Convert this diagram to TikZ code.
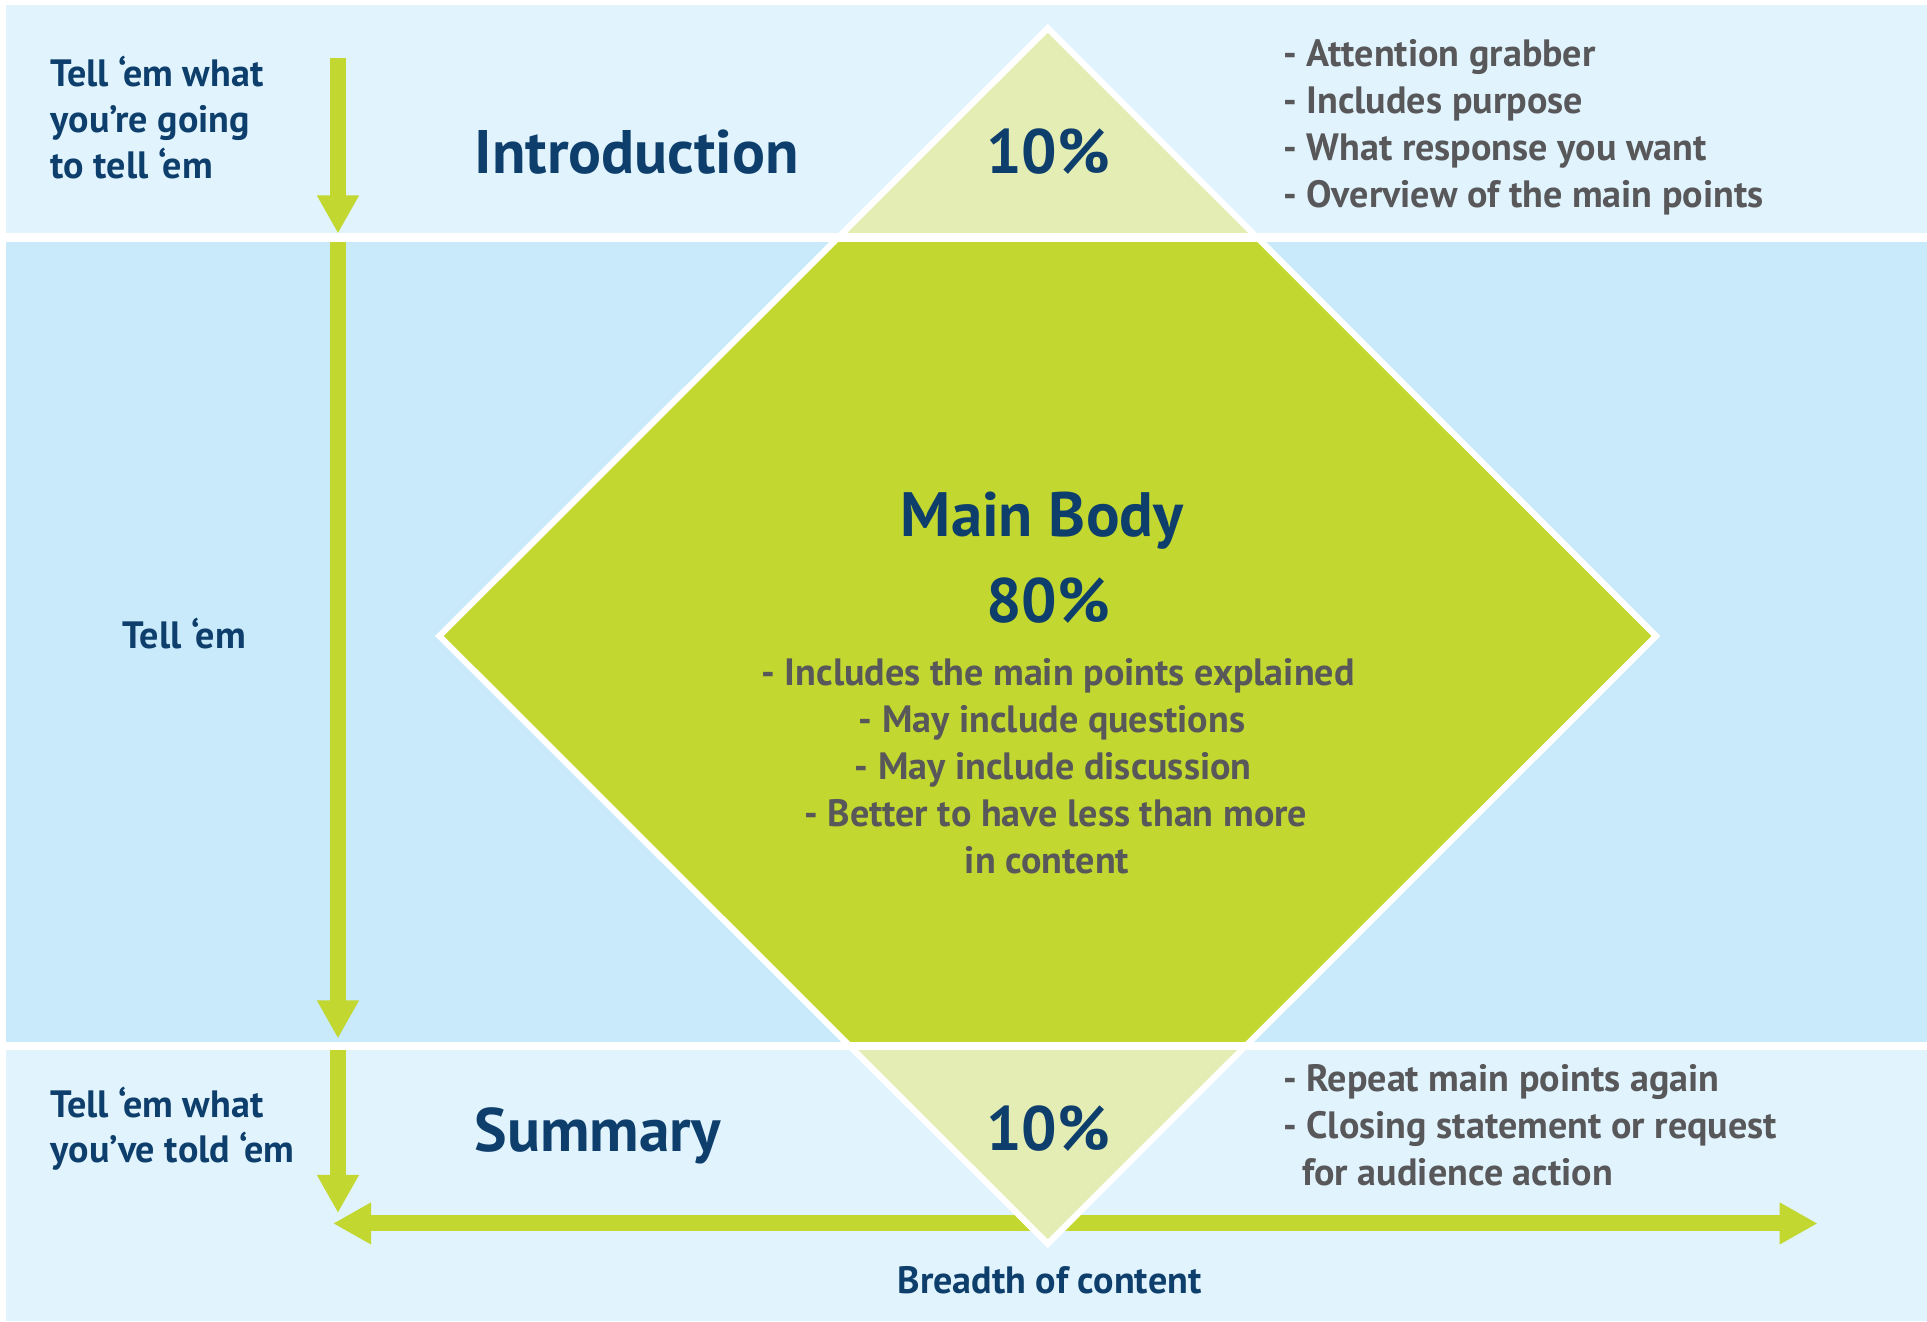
\documentclass[tikz,border=0pt]{standalone}
\usepackage{fontspec}
\setmainfont{PT Sans}
\usetikzlibrary{arrows.meta}
\definecolor{bandlight}{HTML}{E1F4FD}
\definecolor{bandmid}{HTML}{C8EAFB}
\definecolor{grn}{HTML}{C2D72F}
\definecolor{lgrn}{HTML}{E4EDB3}
\definecolor{navyc}{HTML}{0E3F6C}
\definecolor{greyc}{HTML}{58585A}
\begin{document}
\begin{tikzpicture}[x=1pt,y=-1pt,
  lab/.style={inner sep=0pt, text=navyc, font=\bfseries\fontsize{31}{37}\selectfont},
  ttl/.style={inner sep=0pt, text=navyc, font=\bfseries\fontsize{50}{60}\selectfont},
  pct/.style={inner sep=0pt, text=navyc, font=\bfseries\fontsize{51}{60}\selectfont},
  pts/.style={inner sep=0pt, text=greyc, font=\bfseries\fontsize{31}{37}\selectfont},
  garrow/.style={draw=grn, line width=13pt, -{Triangle[length=31pt,width=32pt]}},
  gdarrow/.style={draw=grn, line width=13pt, {Triangle[length=31pt,width=32pt]}-{Triangle[length=31pt,width=32pt]}}]
\useasboundingbox (0,0) rectangle (1568,1075);
\fill[white] (0,0) rectangle (1568,1075);
% bands
\fill[bandlight] (5,4) rectangle (1568,190);
\fill[bandmid] (5,197) rectangle (1568,848);
\fill[bandlight] (5,854) rectangle (1568,1075);
% arrows
\coordinate (a1s) at (275,47);
\coordinate (a1e) at (275,190);
\coordinate (a2s) at (275,197);
\coordinate (a2e) at (275,845);
\coordinate (a3s) at (275,854);
\coordinate (a3e) at (275,987);
\coordinate (hl) at (271,995.5);
\coordinate (hr) at (1479,995.5);
\draw[garrow] (a1s) -- (a1e);
\draw[garrow] (a2s) -- (a2e);
\draw[garrow] (a3s) -- (a3e);
\draw[gdarrow] (hl) -- (hr);
% diamond
\coordinate (dt) at (852.5,23);
\coordinate (dr) at (1347.5,517.5);
\coordinate (db) at (852.5,1012);
\coordinate (dl) at (357.5,517.5);
\fill[lgrn] (dt) -- (dr) -- (db) -- (dl) -- cycle;
\begin{scope}
\clip (0,193) rectangle (1568,851);
\fill[grn] (dt) -- (dr) -- (db) -- (dl) -- cycle;
\end{scope}
\fill[white] (0,190) rectangle (1568,197);
\fill[white] (0,848) rectangle (1568,854);
\draw[white, line width=5pt, line join=miter] (dt) -- (dr) -- (db) -- (dl) -- cycle;
% left labels
\node[lab, anchor=base west] (l1) at (41,70) {Tell ‘em what};
\node[lab, anchor=base west] (l2) at (41,107.5) {you’re going};
\node[lab, anchor=base west] (l3) at (41,145) {to tell ‘em};
\node[lab, anchor=base] (l4) at (150,527.4) {Tell ‘em};
\node[lab, anchor=base west] (l5) at (41,909.6) {Tell ‘em what};
\node[lab, anchor=base west] (l6) at (41,946.3) {you’ve told ‘em};
% titles
\node[ttl, anchor=base west] (intro) at (386,141.4) {Introduction};
\node[ttl, anchor=base west] (summ) at (386,937) {Summary};
\node[pct, anchor=base] (p1) at (853,141.4) {10\%};
\node[pct, anchor=base] (p2) at (853,936) {10\%};
\node[pct, anchor=base] (mb) at (848,436.6) {Main Body};
\node[pct, anchor=base] (p3) at (853,506.8) {80\%};
% right lists
\node[pts, anchor=base west] (r1) at (1044,53.8) {- Attention grabber};
\node[pts, anchor=base west] (r2) at (1044,92) {- Includes purpose};
\node[pts, anchor=base west] (r3) at (1044,130.2) {- What response you want};
\node[pts, anchor=base west] (r4) at (1044,168.5) {- Overview of the main points};
\node[pts, anchor=base west] (s1) at (1044,888) {- Repeat main points again};
\node[pts, anchor=base west] (s2) at (1044,926.6) {- Closing statement or request};
\node[pts, anchor=base west] (s3) at (1059.5,965) {for audience action};
% body bullets
\node[pts, anchor=base] (b1) at (861,557.8) {- Includes the main points explained};
\node[pts, anchor=base] (b2) at (856,596) {- May include questions};
\node[pts, anchor=base] (b3) at (857,634.2) {- May include discussion};
\node[pts, anchor=base] (b4) at (859,672.4) {- Better to have less than more};
\node[pts, anchor=base] (b5) at (852,710.6) {in content};
% axis label
\node[lab, anchor=base] (br) at (854,1052.4) {Breadth of content};
\end{tikzpicture}
\end{document}
